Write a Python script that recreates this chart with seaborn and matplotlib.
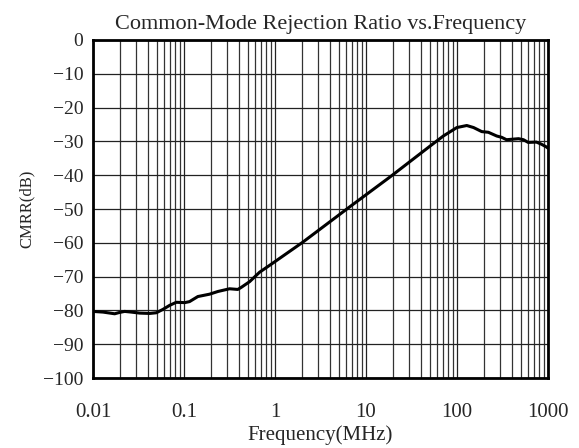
import numpy as np
import pandas as pd
import seaborn as sns
import matplotlib.pyplot as plt
from matplotlib.ticker import LogLocator, FixedLocator, FixedFormatter

# CMRR curve (frequency in MHz, CMRR in dB)
freq_mhz = [0.01, 0.0129, 0.0173, 0.0196, 0.0223, 0.0264, 0.0326, 0.042, 0.0496,
            0.0587, 0.0696, 0.0823, 0.1018, 0.115, 0.142, 0.191, 0.236, 0.317,
            0.39, 0.425, 0.526, 0.677, 0.88, 2.0, 6.67, 18.4, 50.5, 70.8, 99.6,
            128, 152, 187, 221, 273, 310, 350, 475, 537, 606, 745, 842, 955, 1000]
cmrr_db = [-80.3, -80.5, -81.0, -80.6, -80.3, -80.5, -80.8, -80.9, -80.7,
           -79.7, -78.5, -77.6, -77.7, -77.4, -75.9, -75.2, -74.4, -73.6,
           -73.8, -73.2, -71.5, -68.7, -66.6, -59.9, -49.3, -40.5, -31.4, -28.4, -25.9,
           -25.3, -25.9, -27.1, -27.3, -28.4, -28.8, -29.5, -29.2, -29.5, -30.3, -30.2, -30.8, -31.6, -32.0]

x_ticks = [0.01, 0.1, 1, 10, 100, 1000]
x_tick_labels = ["0.01", "0.1", "1", "10", "100", "1000"]
y_ticks = list(range(-100, 1, 10))

sns.set_theme(style="white")
plt.rcParams['font.family'] = ['Liberation Serif', 'DejaVu Sans']

df = pd.DataFrame({"freq": freq_mhz, "cmrr": cmrr_db})

fig = plt.figure(figsize=(5.79, 4.48), dpi=100)
ax = fig.add_axes([93 / 579, 1 - 378 / 448, 455 / 579, 338 / 448])

sns.lineplot(data=df, x="freq", y="cmrr", ax=ax, color="black", linewidth=2.2, sort=False, zorder=3)

ax.set_xscale("log")
ax.set_xlim(0.01, 1000)
ax.set_ylim(-100, 0)

ax.xaxis.set_major_locator(FixedLocator(x_ticks))
ax.xaxis.set_major_formatter(FixedFormatter(x_tick_labels))
ax.xaxis.set_minor_locator(LogLocator(base=10, subs=np.arange(2, 10)))
ax.yaxis.set_major_locator(FixedLocator(y_ticks))
ax.set_yticklabels([f"\u2212{abs(v)}" if v < 0 else str(v) for v in y_ticks])

ax.grid(which="major", axis="both", color="#222222", linewidth=0.9)
ax.grid(which="minor", axis="x", color="#333333", linewidth=0.9)
ax.tick_params(which="both", length=0)
ax.tick_params(axis="x", labelsize=15, pad=18)
ax.tick_params(axis="y", labelsize=14, pad=7)

for sp in ax.spines.values():
    sp.set_color("black")
    sp.set_linewidth(2)

ax.set_title("Common-Mode Rejection Ratio vs.Frequency", fontsize=16, pad=8)
ax.set_xlabel("Frequency(MHz)", fontsize=15, labelpad=2)
ax.set_ylabel("CMRR(dB)", fontsize=12, labelpad=6)

fig.savefig("out.png", dpi=100, facecolor="white")
